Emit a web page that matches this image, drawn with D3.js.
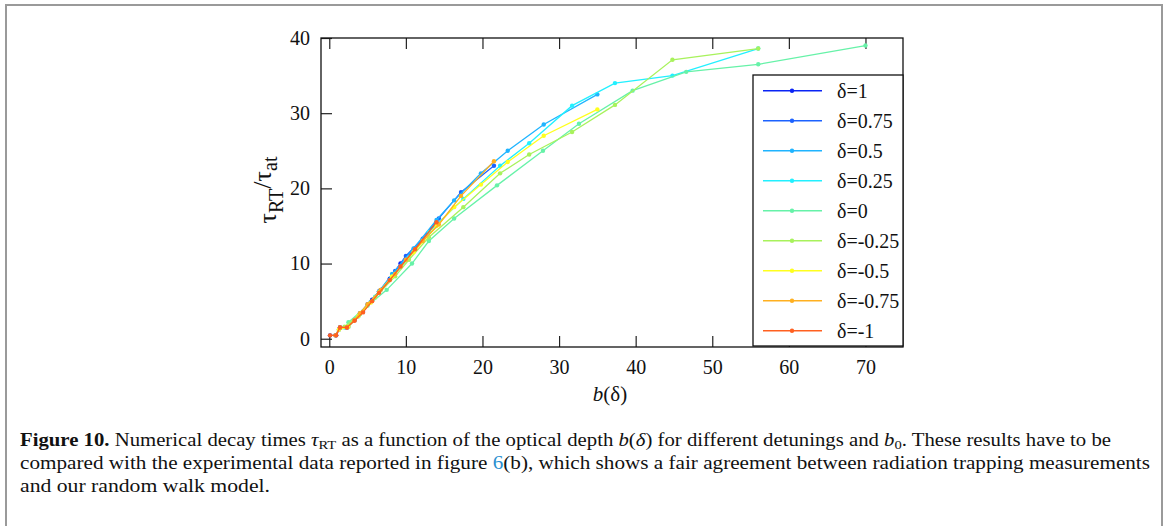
<!DOCTYPE html>
<html><head><meta charset="utf-8">
<script src="https://cdn.jsdelivr.net/npm/d3@7/dist/d3.min.js"></script>
<style>body{margin:0;background:#fff}svg{display:block}</style>
</head><body>
<svg id="c" width="1168" height="526"></svg>
<script>
// ---- data ----
const seriesNames = ["δ=1","δ=0.75","δ=0.5","δ=0.25","δ=0","δ=-0.25","δ=-0.5","δ=-0.75","δ=-1"];
const bD1   = [14.0,11.2,9.3,7.9,6.5,5.6,4.4,3.3,2.3,1.4,0.9,0.1];
const tD1   = [15.5,12.0,10.0,8.0,6.3,5.2,3.6,2.5,1.5,1.5,0.45,0.45];
const bD075 = [21.5,17.2,14.3,12.2,10.0,8.6,6.7,5.0,4.0,3.3,2.3,1.4,0.8];
const tD075 = [23.0,19.5,16.0,13.3,11.0,9.0,6.5,4.6,3.4,2.5,1.5,1.5,0.45];
const bD05  = [35.0,28.0,23.3,19.8,16.3,14.0,11.0,8.2,6.5,5.4,3.8,2.5,1.25];
const tD05  = [32.5,28.5,25.0,22.0,18.4,15.8,12.0,8.6,6.3,4.9,3.0,1.6,1.2];
const bD025 = [56.0,44.8,37.3,31.7,26.1,22.3,17.5,13.0,10.4,8.6,6.0,4.0,2.0];
const tD025 = [38.6,35.0,34.0,31.0,26.0,23.0,18.6,14.2,10.8,8.6,5.6,3.3,1.5];
const bD0   = [70.0,56.0,46.6,39.6,32.6,27.9,21.9,16.3,13.0,10.8,7.5,5.0,2.5];
const tD0   = [39.0,36.5,35.5,33.0,28.6,25.0,20.4,16.0,13.0,10.0,6.5,4.4,2.2];
const bDm025= [56.0,44.8,37.3,31.7,26.1,22.3,17.5,13.0,10.4,8.6,6.0,4.0,2.0];
const tDm025= [38.6,37.1,31.1,27.5,24.5,22.0,17.5,13.5,10.5,8.3,5.5,3.3,1.6];
const bDm05 = [35.0,28.0,23.3,19.8,16.3,14.0,11.0,8.2,6.5,5.4,3.8,2.5,1.25];
const tDm05 = [30.5,27.0,23.5,20.5,17.5,15.0,11.5,8.3,6.2,4.8,3.0,1.6,1.2];
const bDm075= [21.5,17.2,14.3,12.2,10.0,8.6,6.7,5.0,4.0,3.3,2.3,1.4,0.8];
const tDm075= [23.6,19.0,15.2,13.0,10.5,8.6,6.5,4.6,3.4,2.5,1.5,1.5,0.45];
const bDm1  = [14.0,11.2,9.3,7.9,6.5,5.6,4.4,3.3,2.3,1.4,0.9,0.1];
const tDm1  = [15.5,11.9,9.6,7.8,6.1,5.0,3.5,2.4,1.5,1.5,0.45,0.45];
const xTicks = [0,10,20,30,40,50,60,70];
const yTicks = [0,10,20,30,40];
const colors = ["#0a24f5","#1c62ff","#1fb4ff","#22f0ff","#66f2a8","#a8f25c","#ffff1e","#ffb020","#ff6020"];

const seriesB = [bD1,bD075,bD05,bD025,bD0,bDm025,bDm05,bDm075,bDm1];
const seriesT = [tD1,tD075,tD05,tD025,tD0,tDm025,tDm05,tDm075,tDm1];
const series = seriesNames.map((n,i)=>({name:n, color:colors[i], pts: seriesB[i].map((b,j)=>[b, seriesT[i][j]])}));

const svg = d3.select("#c");
const serif = "'Liberation Serif','Times New Roman',serif";

// frame
svg.append("rect").attr("x",6).attr("y",5).attr("width",1156).attr("height",540)
  .attr("fill","none").attr("stroke","#9a9a9a").attr("stroke-width",2);

const L=321,R=903,T=38,B=347;
const x = d3.scaleLinear().domain([-1.08,74.9]).range([L,R]);
const y = d3.scaleLinear().domain([-1.1,40]).range([B,T]);

// axes
const ax = svg.append("g").attr("transform",`translate(0,${B})`)
  .call(d3.axisBottom(x).tickValues(xTicks).tickSizeInner(-11).tickSizeOuter(0).tickPadding(13));
const axT = svg.append("g").attr("transform",`translate(0,${T})`)
  .call(d3.axisTop(x).tickValues(xTicks).tickSizeInner(-11).tickSizeOuter(0).tickFormat(""));
const ay = svg.append("g").attr("transform",`translate(${L},0)`)
  .call(d3.axisLeft(y).tickValues(yTicks).tickSizeInner(-11).tickSizeOuter(0).tickPadding(11));
[ax,axT,ay].forEach(g=>{
  g.select(".domain").remove();
  g.selectAll("line").attr("stroke","#222").attr("stroke-width",1.2);
  g.selectAll("text").attr("font-family",serif).attr("font-size",20).attr("fill","#111");
});
svg.append("rect").attr("x",L).attr("y",T).attr("width",R-L).attr("height",B-T)
  .attr("fill","none").attr("stroke","#111").attr("stroke-width",1.3);

// series
const line = d3.line().x(d=>x(d[0])).y(d=>y(d[1]));
const gs = svg.append("g");
series.forEach(s=>{
  gs.append("path").attr("d",line(s.pts)).attr("fill","none").attr("stroke",s.color).attr("stroke-width",1.3);
  gs.selectAll(null).data(s.pts).enter().append("circle")
    .attr("cx",d=>x(d[0])).attr("cy",d=>y(d[1])).attr("r",2.2).attr("fill",s.color);
});

// legend
const lg = svg.append("g");
lg.append("rect").attr("x",753).attr("y",75).attr("width",150).attr("height",271)
  .attr("fill","#fff").attr("stroke","#111").attr("stroke-width",1.3);
series.forEach((s,i)=>{
  const yy = 90.7 + i*30;
  lg.append("line").attr("x1",763).attr("x2",822).attr("y1",yy).attr("y2",yy).attr("stroke",s.color).attr("stroke-width",1.5);
  lg.append("circle").attr("cx",792).attr("cy",yy).attr("r",2.2).attr("fill",s.color);
  lg.append("text").attr("x",837).attr("y",yy+7).attr("font-family",serif).attr("font-size",20).attr("fill","#111").text(s.name);
});

// axis labels
const xl = svg.append("text").attr("x",610).attr("y",401).attr("text-anchor","middle")
  .attr("font-family",serif).attr("font-size",21).attr("fill","#111");
xl.append("tspan").attr("font-style","italic").text("b");
xl.append("tspan").text("(δ)");

const yl = svg.append("text").attr("transform","translate(276,190) rotate(-90)").attr("text-anchor","middle")
  .attr("font-family",serif).attr("font-size",26).attr("fill","#111");
yl.append("tspan").text("τ");
yl.append("tspan").attr("font-size",20).attr("dy",7).text("RT");
yl.append("tspan").attr("dy",-12).text("/");
yl.append("tspan").attr("dy",0).text("τ");
yl.append("tspan").attr("font-size",20).attr("dy",6).text("at");

// caption
const cf = "'Liberation Serif','Times New Roman',serif";
const c1 = svg.append("text").attr("x",20).attr("y",446).attr("font-family",cf).attr("font-size",18.5).attr("fill","#111")
  .attr("textLength",1091).attr("lengthAdjust","spacingAndGlyphs");
c1.append("tspan").attr("font-weight","bold").text("Figure 10.");
c1.append("tspan").text(" Numerical decay times ");
c1.append("tspan").attr("font-style","italic").text("τ");
c1.append("tspan").attr("font-size",13).attr("dy",3).text("RT");
c1.append("tspan").attr("dy",-3).text(" as a function of the optical depth ");
c1.append("tspan").attr("font-style","italic").text("b");
c1.append("tspan").text("(");
c1.append("tspan").attr("font-style","italic").text("δ");
c1.append("tspan").text(") for different detunings and ");
c1.append("tspan").attr("font-style","italic").text("b");
c1.append("tspan").attr("font-size",13).attr("dy",3).text("0");
c1.append("tspan").attr("dy",-3).text(". These results have to be");
const c2 = svg.append("text").attr("x",20).attr("y",469).attr("font-family",cf).attr("font-size",18.5).attr("fill","#111")
  .attr("textLength",1130).attr("lengthAdjust","spacingAndGlyphs");
c2.append("tspan").text("compared with the experimental data reported in figure ");
c2.append("tspan").attr("fill","#2a8fd0").text("6");
c2.append("tspan").text("(b), which shows a fair agreement between radiation trapping measurements");
svg.append("text").attr("x",20).attr("y",492).attr("font-family",cf).attr("font-size",18.5).attr("fill","#111")
  .attr("textLength",250).attr("lengthAdjust","spacingAndGlyphs")
  .text("and our random walk model.");
</script>
</body></html>
